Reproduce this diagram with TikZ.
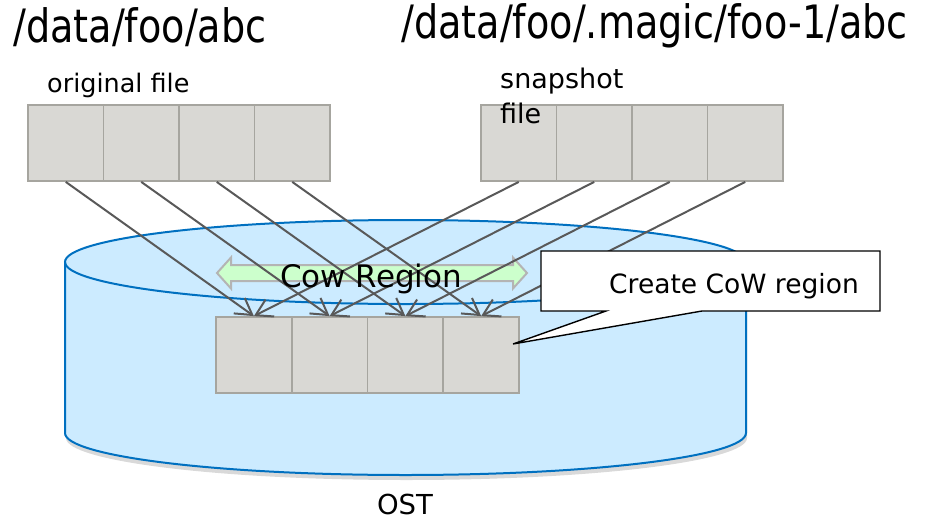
\documentclass[tikz,border=0pt]{standalone}
\usepackage{fontspec}
\setmainfont{DejaVu Sans}
\newfontfamily\pathfont[FakeStretch=0.83]{DejaVu Sans}
\usetikzlibrary{arrows.meta,shadows}
\definecolor{blockfill}{HTML}{D9D8D4}
\definecolor{blockline}{HTML}{A6A59F}
\definecolor{linkgray}{HTML}{595959}
\definecolor{ostfill}{HTML}{CCEBFF}
\definecolor{ostline}{HTML}{0070C0}
\definecolor{cowfill}{HTML}{CCFFCC}
\definecolor{cowline}{HTML}{B4B4B4}
\begin{document}
\begin{tikzpicture}[
    x=1pt, y=-1pt,
    block/.style={draw=blockline, fill=blockfill, line width=1.8pt,
      minimum width=75.5pt, minimum height=76pt, inner sep=0pt},
    ostblock/.style={block, minimum width=75.75pt},
    link/.style={draw=linkgray, line width=2pt,
      -{Straight Barb[length=16pt,width=19pt]}},
    label/.style={inner sep=0pt, anchor=base west},
  ]
  \useasboundingbox (0,0) rectangle (933,519);
  % OST cylinder
  \path[fill=ostfill, drop shadow={shadow xshift=1pt, shadow yshift=-5pt, opacity=0.3}]
    (65,262) -- (65,433) arc[start angle=180, end angle=360, x radius=340.5pt, y radius=42pt]
    -- (746,262) arc[start angle=0, end angle=180, x radius=340.5pt, y radius=42pt] -- cycle;
  \draw[ostline, line width=2pt]
    (65,262) -- (65,433) arc[start angle=180, end angle=360, x radius=340.5pt, y radius=42pt]
    -- (746,262);
  \draw[ostline, line width=2pt] (405.5,262) ellipse[x radius=340.5pt, y radius=42pt];

  \foreach \i in {1,...,4} {
    \node[block] (orig\i) at ({28+75.5*(\i-0.5)},143) {};
    \node[block] (snap\i) at ({481+75.5*(\i-0.5)},143) {};
    \node[ostblock] (ost\i) at ({216+75.75*(\i-0.5)},355) {};
  }

  % cow region arrow
  \path[fill=cowfill, draw=cowline, line width=2pt]
    (217,273) -- (231,257.5) -- (231,265) -- (513,265) -- (513,257.5) -- (527,273)
    -- (513,288.5) -- (513,281) -- (231,281) -- (231,288.5) -- cycle;

  \foreach \i in {1,...,4} {
    \draw[link] (orig\i.south) -- (ost\i.north);
    \draw[link] (snap\i.south) -- (ost\i.north);
  }

  \node[inner sep=0pt, anchor=base, font=\fontsize{31}{31}\selectfont] (cow label) at (371,287) {Cow Region};

  % callout
  \coordinate (note tip) at (513,344);
  \draw[fill=white, line width=1.4pt] (541,251) -- (880,251) -- (880,311) -- (702,311)
    -- (note tip) -- (606,311) -- (541,311) -- cycle;
  \node[inner sep=0pt, anchor=base, font=\fontsize{26.5}{26.5}\selectfont] (note) at (734,293) {Create CoW region};

  \node[label, font=\pathfont\fontsize{46}{46}\selectfont] (orig path) at (13,43) {/data/foo/abc};
  \node[label, font=\pathfont\fontsize{46}{46}\selectfont] (snap path) at (401,38) {/data/foo/.magic/foo-1/abc};
  \node[label, font=\fontsize{25.5}{25.5}\selectfont] (orig label) at (47,92) {original file};
  \node[label, align=left, font=\fontsize{27}{35}\selectfont] (snap label) at (500,123) {snapshot\\file};
  \node[inner sep=0pt, anchor=base, font=\fontsize{27.5}{27.5}\selectfont] (ost label) at (405,514) {OST};
\end{tikzpicture}
\end{document}
